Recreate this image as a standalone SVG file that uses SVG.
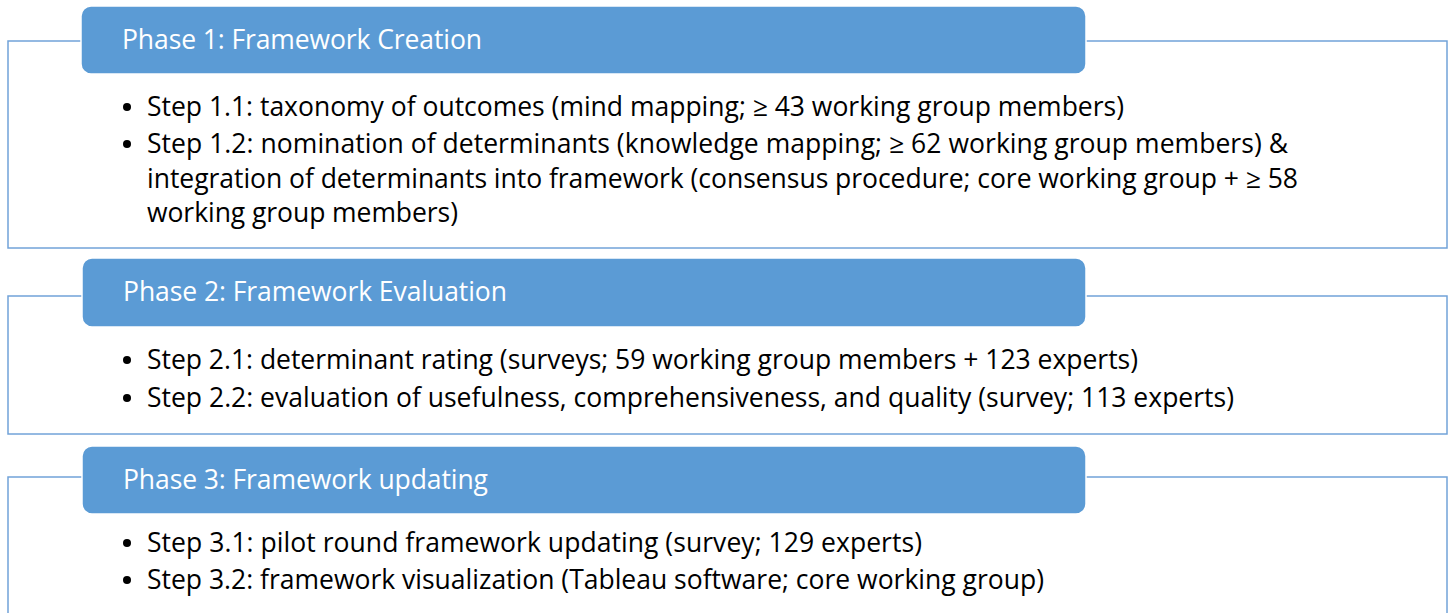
<svg xmlns="http://www.w3.org/2000/svg" width="1448" height="613" viewBox="0 0 1448 613">
  <style>
    .frame { fill: #ffffff; stroke: #72a3d9; stroke-width: 1.5; }
    .head { fill: #5b9bd5; stroke: #ffffff; stroke-width: 1.5; }
    .htxt { font-family: "Open Sans", "Noto Sans", sans-serif; font-size: 26.5px; fill: #ffffff; }
    .btxt { font-family: "Open Sans", "Noto Sans", sans-serif; font-size: 26.5px; fill: #000000; }
    .dot { fill: #000000; }
  </style>
  <rect width="1448" height="613" fill="#ffffff"/>

  <!-- bordered panels behind each phase header -->
  <g id="panels">
    <rect class="frame" x="8" y="41" width="1439" height="207"/>
    <rect class="frame" x="8" y="296" width="1439" height="138"/>
    <rect class="frame" x="8" y="477" width="1439" height="160"/>
  </g>

  <g id="phase1">
    <rect class="head" x="81" y="6" width="1005" height="68" rx="10"/>
    <text class="htxt" x="122" y="49" textLength="360">Phase 1: Framework Creation</text>
    <circle class="dot" cx="127" cy="107" r="4"/>
    <text class="btxt" x="147" y="116" textLength="977">Step 1.1: taxonomy of outcomes (mind mapping; ≥ 43 working group members)</text>
    <circle class="dot" cx="127" cy="144" r="4"/>
    <text class="btxt" x="147" y="153" textLength="1141">Step 1.2: nomination of determinants (knowledge mapping; ≥ 62 working group members) &amp;</text>
    <text class="btxt" x="147" y="188" textLength="1151">integration of determinants into framework (consensus procedure; core working group + ≥ 58</text>
    <text class="btxt" x="147" y="222" textLength="311">working group members)</text>
  </g>

  <g id="phase2">
    <rect class="head" x="82" y="258" width="1004" height="69" rx="10"/>
    <text class="htxt" x="123" y="301" textLength="384">Phase 2: Framework Evaluation</text>
    <circle class="dot" cx="127" cy="360" r="4"/>
    <text class="btxt" x="147" y="369" textLength="991">Step 2.1: determinant rating (surveys; 59 working group members + 123 experts)</text>
    <circle class="dot" cx="127" cy="398" r="4"/>
    <text class="btxt" x="147" y="407" textLength="1087">Step 2.2: evaluation of usefulness, comprehensiveness, and quality (survey; 113 experts)</text>
  </g>

  <g id="phase3">
    <rect class="head" x="82" y="446" width="1004" height="68" rx="10"/>
    <text class="htxt" x="123" y="489" textLength="365">Phase 3: Framework updating</text>
    <circle class="dot" cx="127" cy="543" r="4"/>
    <text class="btxt" x="147" y="552" textLength="775">Step 3.1: pilot round framework updating (survey; 129 experts)</text>
    <circle class="dot" cx="127" cy="580" r="4"/>
    <text class="btxt" x="147" y="589" textLength="897">Step 3.2: framework visualization (Tableau software; core working group)</text>
  </g>

  <g id="connectors"></g>
</svg>
